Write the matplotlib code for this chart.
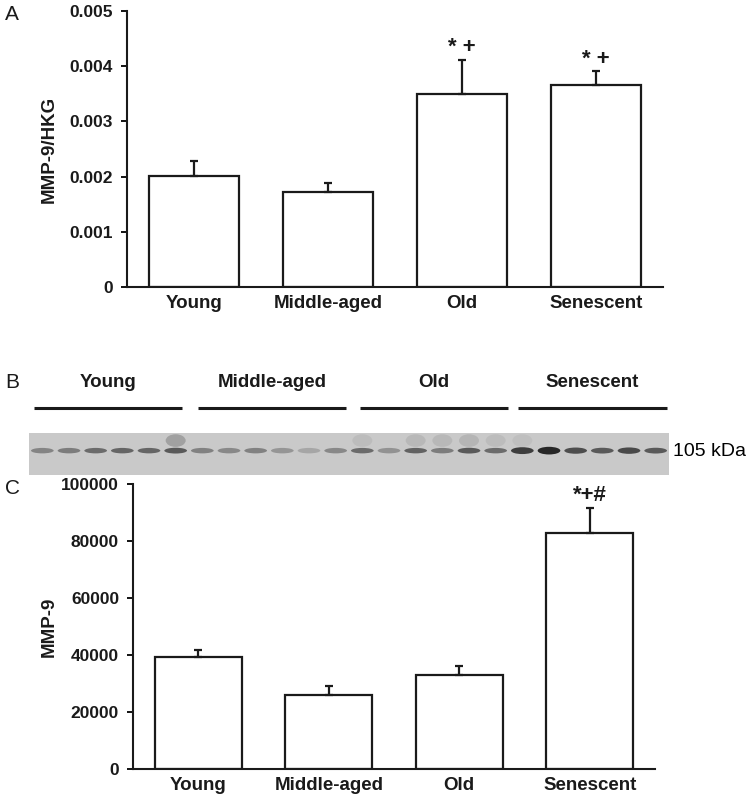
import matplotlib
matplotlib.use("Agg")
import matplotlib.pyplot as plt
from matplotlib.patches import Ellipse

plt.rcParams['font.family'] = ['Liberation Sans', 'DejaVu Sans']

groups = ["Young", "Middle-aged", "Old", "Senescent"]

# Panel A
ratio_mean = [0.00201, 0.00173, 0.00350, 0.00366]
ratio_err = [0.00027, 0.00015, 0.00062, 0.00026]
ratio_marks = ["", "", "* +", "* +"]
ratio_ticks = [0, 0.001, 0.002, 0.003, 0.004, 0.005]
ratio_ticklabels = ["0", "0.001", "0.002", "0.003", "0.004", "0.005"]

# Panel C
mmp_mean = [39400, 25800, 32950, 82800]
mmp_err = [2400, 3300, 3250, 8700]
mmp_marks = ["", "", "", "*+#"]
mmp_ticks = [0, 20000, 40000, 60000, 80000, 100000]
mmp_ticklabels = ["0", "20000", "40000", "60000", "80000", "100000"]

# Panel B blot: band darkness per lane (6 lanes per group)
band_main = [0.40, 0.45, 0.55, 0.58, 0.58, 0.65,
             0.42, 0.38, 0.42, 0.30, 0.20, 0.38,
             0.55, 0.32, 0.60, 0.45, 0.65, 0.55,
             0.82, 0.95, 0.72, 0.65, 0.75, 0.65]
band_upper = [0.0, 0.0, 0.0, 0.0, 0.0, 0.25,
              0.0, 0.0, 0.0, 0.0, 0.0, 0.0,
              0.08, 0.0, 0.10, 0.10, 0.12, 0.08,
              0.06, 0.0, 0.0, 0.0, 0.0, 0.0]
blot_size = "105 kDa"

fig = plt.figure(figsize=(7.54, 8.01), dpi=100)


def bar_panel(ax, means, errs, marks, ticks, ticklabels, ylabel, ymax, mark_off):
    x = range(len(means))
    ax.bar(x, means, width=0.67, color="white", edgecolor="#1a1a1a", linewidth=1.6, zorder=2)
    ax.errorbar(x, means, yerr=[[0] * len(errs), errs], fmt="none", ecolor="#1a1a1a",
                elinewidth=1.6, capsize=3, capthick=1.6, zorder=3)
    for i, (m, e, t) in enumerate(zip(means, errs, marks)):
        if t:
            ax.text(i, m + e + mark_off, t, ha="center", va="bottom", fontsize=16,
                    fontweight="bold", color="#1a1a1a")
    ax.set_xlim(-0.5, 3.5)
    ax.set_ylim(0, ymax)
    ax.set_yticks(ticks)
    ax.set_yticklabels(ticklabels, fontsize=12.5, fontweight="bold", color="#1a1a1a")
    ax.set_xticks(list(x))
    ax.set_xticklabels(groups, fontsize=13.5, fontweight="bold", color="#1a1a1a")
    ax.tick_params(axis="x", length=0, pad=6)
    ax.tick_params(axis="y", length=4, width=1.3, pad=6, direction="out")
    for s in ["top", "right"]:
        ax.spines[s].set_visible(False)
    for s in ["left", "bottom"]:
        ax.spines[s].set_linewidth(1.5)
        ax.spines[s].set_color("#1a1a1a")
    ax.set_ylabel(ylabel, fontsize=13.5, fontweight="bold", color="#1a1a1a")


axA = fig.add_axes([127 / 754, 1 - 287 / 801, 536 / 754, 276 / 801])
bar_panel(axA, ratio_mean, ratio_err, ratio_marks, ratio_ticks, ratio_ticklabels,
          "MMP-9/HKG", 0.005, 0.00002)
axA.yaxis.set_label_coords(-0.13, 0.5)

axC = fig.add_axes([133 / 754, 1 - 769 / 801, 522 / 754, 285 / 801])
bar_panel(axC, mmp_mean, mmp_err, mmp_marks, mmp_ticks, mmp_ticklabels,
          "MMP-9", 100000, 800)
axC.yaxis.set_label_coords(-0.145, 0.5)

# Blot
axB = fig.add_axes([29 / 754, 1 - 475 / 801, 640 / 754, 42 / 801])
axB.set_facecolor("#c9c9c9")
axB.set_xlim(0, len(band_main))
axB.set_ylim(0, 1)
for i, (d, u) in enumerate(zip(band_main, band_upper)):
    h = 0.13 + 0.15 * max(0, d - 0.6)
    axB.add_patch(Ellipse((i + 0.5, 0.58), 0.85, h, color="#1e1e1e", alpha=d, lw=0))
    if u > 0:
        axB.add_patch(Ellipse((i + 0.5, 0.82), 0.75, 0.3, color="#2a2a2a", alpha=u, lw=0))
axB.set_xticks([])
axB.set_yticks([])
for s in axB.spines.values():
    s.set_visible(False)
axB.text(1.006, 0.55, blot_size, transform=axB.transAxes, ha="left", va="center", fontsize=14)

# group lines above blot
axL = fig.add_axes([0, 0, 1, 1], facecolor="none")
axL.set_xlim(0, 754)
axL.set_ylim(801, 0)
axL.axis("off")
line_spans = [(34, 182), (198, 346), (360, 508), (518, 667)]
for g, (a, b) in zip(groups, line_spans):
    axL.plot([a, b], [408, 408], color="#1a1a1a", lw=2.2, solid_capstyle="butt")
    axL.text((a + b) / 2, 391, g, ha="center", va="bottom", fontsize=13.5, fontweight="bold",
             color="#1a1a1a")

for lab, y in [("A", 15), ("B", 382), ("C", 488)]:
    fig.text(12 / 754, 1 - y / 801, lab, ha="center", va="center", fontsize=15, color="#1a1a1a")

fig.savefig("out.png", dpi=100)
